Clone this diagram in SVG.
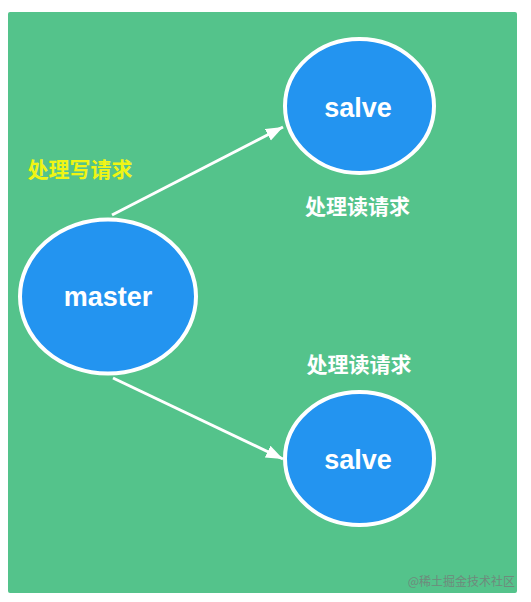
<svg xmlns="http://www.w3.org/2000/svg" width="531" height="602" viewBox="0 0 531 602">
  <defs>
    <style>
      .node { fill: #2394F0; stroke: #FFFFFF; stroke-width: 4; }
      .nlabel { font-family: "Liberation Sans", Arial, sans-serif; font-weight: bold; font-size: 27px; fill: #FFFFFF; text-anchor: middle; dominant-baseline: central; }
      .elabel { font-family: "Noto Sans CJK SC", "Noto Sans", sans-serif; font-weight: bold; font-size: 21px; text-anchor: middle; dominant-baseline: central; }
      .edge { stroke: #FFFFFF; stroke-width: 3; fill: none; }
    </style>
    <marker id="arrow" markerUnits="userSpaceOnUse" markerWidth="20" markerHeight="16" refX="17" refY="8" orient="auto">
      <polygon points="0,1.5 17,8 0,14.5" fill="#FFFFFF"/>
    </marker>
  </defs>
  <rect x="0" y="0" width="531" height="602" fill="#FFFFFF"/>
  <rect id="background" x="8" y="12" width="509" height="581" rx="2" fill="#54C38B"/>

  <g id="connectors">
    <line class="edge" x1="112" y1="215" x2="283" y2="127" marker-end="url(#arrow)"/>
    <line class="edge" x1="113" y1="378" x2="283" y2="459" marker-end="url(#arrow)"/>
  </g>

  <g id="master">
    <ellipse class="node" cx="108" cy="296.5" rx="88" ry="77"/>
    <text class="nlabel" x="108" y="297">master</text>
  </g>

  <g id="salve-top">
    <ellipse class="node" cx="359.5" cy="106" rx="74.5" ry="67"/>
    <text class="nlabel" x="358" y="108">salve</text>
  </g>

  <g id="salve-bottom">
    <ellipse class="node" cx="359.5" cy="458.5" rx="74.5" ry="66.5"/>
    <text class="nlabel" x="358" y="460">salve</text>
  </g>

  <g id="label-write">
    <text class="elabel" x="80" y="168" fill="#F0F514">处理写请求</text>
  </g>
  <g id="label-read-top">
    <text class="elabel" x="357.5" y="205" fill="#FFFFFF">处理读请求</text>
  </g>
  <g id="label-read-bottom">
    <text class="elabel" x="359" y="363" fill="#FFFFFF">处理读请求</text>
  </g>

  <text x="515" y="580" font-family="Noto Sans CJK SC, Noto Sans, sans-serif" font-size="12" fill="#6F8A7C" text-anchor="end" dominant-baseline="central">@稀土掘金技术社区</text>
</svg>
